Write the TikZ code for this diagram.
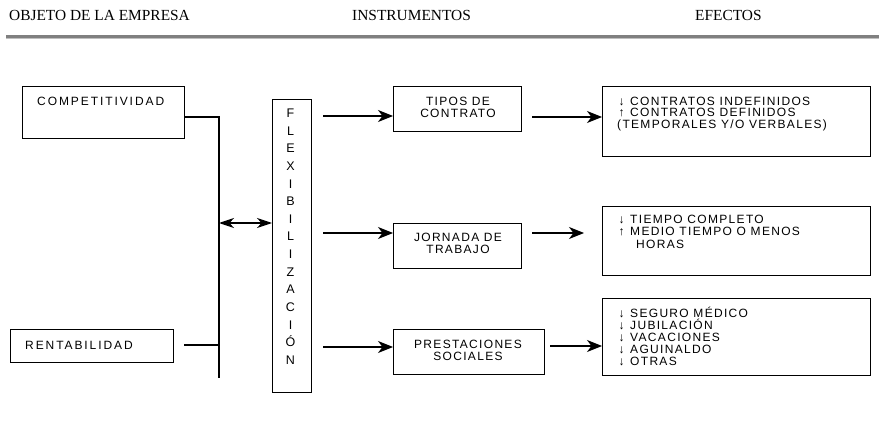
\documentclass[tikz,border=0pt]{standalone}
\usepackage{fontspec}
\setmainfont{Liberation Sans}
\newfontfamily\hdrfont{Liberation Serif}
\newfontfamily\midfont[LetterSpace=11]{Liberation Sans}
\newfontfamily\objfont[LetterSpace=16]{Liberation Sans}
\newfontfamily\efffont[LetterSpace=11]{Liberation Sans}
\usetikzlibrary{arrows.meta}
\newcommand{\dn}{\makebox[5pt]{\fontspec{Liberation Sans}↓}\hspace{6pt}}
\newcommand{\upa}{\makebox[5pt]{\fontspec{Liberation Sans}↑}\hspace{6pt}}
\begin{document}
\begin{tikzpicture}[x=1pt,y=-1pt,
  bx/.style={draw, line width=1.2pt, inner sep=0pt, anchor=north west},
  mid/.style={inner sep=0pt, align=center, font=\midfont\fontsize{12}{12.5}\selectfont},
  obj/.style={inner sep=0pt, anchor=base west, font=\objfont\fontsize{12}{12}\selectfont},
  eff/.style={inner sep=0pt, anchor=base west, font=\efffont\fontsize{12}{12}\selectfont},
  flx/.style={inner sep=0pt, anchor=base, font=\fontsize{12.5}{12.5}\selectfont},
  hdr/.style={inner sep=0pt, anchor=base west, font=\hdrfont\fontsize{15.4}{16}\selectfont},
  ln/.style={line width=1.2pt},
  arr/.style={line width=1.2pt, -{Stealth[length=15pt,width=12pt,inset=4.5pt]}},
  dbl/.style={line width=1.2pt, {Stealth[length=15pt,width=10pt,inset=4.5pt]}-{Stealth[length=15pt,width=10pt,inset=4.5pt]}}]
\useasboundingbox (0,0) rectangle (879,433);
% header
\node[hdr] (h1) at (9,20.5) {OBJETO DE LA EMPRESA};
\node[hdr] (h2) at (352,20.5) {INSTRUMENTOS};
\node[hdr] (h3) at (695,20.5) {EFECTOS};
\fill[black!50] (6,35) rectangle (879,38);
\fill[black!25] (6,38) rectangle (879,39.2);
% boxes
\node[bx, minimum width=162pt, minimum height=52pt] (comp) at (22,86) {};
\node[bx, minimum width=163pt, minimum height=33pt] (rent) at (10,329) {};
\node[bx, minimum width=39pt, minimum height=293pt] (flex) at (272,99) {};
\node[bx, minimum width=128pt, minimum height=45pt] (tipos) at (393,86) {};
\node[bx, minimum width=128pt, minimum height=45pt] (jorn) at (393,223) {};
\node[bx, minimum width=151pt, minimum height=45pt] (prest) at (393,329) {};
\node[bx, minimum width=268pt, minimum height=70pt] (ef1) at (602,86) {};
\node[bx, minimum width=268pt, minimum height=69pt] (ef2) at (602,206) {};
\node[bx, minimum width=268pt, minimum height=77pt] (ef3) at (602,298) {};
% texts
\node[obj] (tcomp) at (37,105.3) {COMPETITIVIDAD};
\node[obj] (trent) at (25,349.3) {RENTABILIDAD};
\foreach \l [count=\i] in {F,L,E,X,I,B,I,L,I,Z,A,C,I,Ó,N}
  \node[flx] (fl\i) at (290.5,{117.5+(\i-1)*17.64}) {\l};
\node[mid] (ttipos) at (458,107.5) {TIPOS DE\\CONTRATO};
\node[mid] (tjorn) at (458,243.5) {JORNADA DE\\TRABAJO};
\node[mid] (tprest) at (468,350.5) {PRESTACIONES\\SOCIALES};
\node[eff] (e1a) at (619,105.3) {\dn CONTRATOS INDEFINIDOS};
\node[eff] (e1b) at (619,116.8) {\upa CONTRATOS DEFINIDOS};
\node[eff] (e1c) at (617,128.3) {(TEMPORALES Y/O VERBALES)};
\node[eff] (e2a) at (619,223.3) {\dn TIEMPO COMPLETO};
\node[eff] (e2b) at (619,235.8) {\upa MEDIO TIEMPO O MENOS};
\node[eff] (e2c) at (636,248.3) {HORAS};
\node[eff] (e3a) at (619,317.3) {\dn SEGURO MÉDICO};
\node[eff] (e3b) at (619,329.3) {\dn JUBILACIÓN};
\node[eff] (e3c) at (619,341.3) {\dn VACACIONES};
\node[eff] (e3d) at (619,353.3) {\dn AGUINALDO};
\node[eff] (e3e) at (619,365.3) {\dn OTRAS};
% connectors
\coordinate (bustop) at (219,117);
\coordinate (busbot) at (219,378);
\coordinate (rentend) at (184,345);
\coordinate (dblL) at (219,223);
\draw[ln] (comp.east |- bustop) -- (bustop) -- (busbot);
\draw[ln] (rentend) -- (rentend -| bustop);
\draw[dbl] (dblL) -- (dblL -| flex.west);
\coordinate (f1) at (323,116);
\coordinate (f2) at (323,233);
\coordinate (f3) at (323,347);
\draw[arr] (f1) -- (f1 -| tipos.west);
\draw[arr] (f2) -- (f2 -| jorn.west);
\draw[arr] (f3) -- (f3 -| prest.west);
\coordinate (g1) at (532,117);
\coordinate (g2) at (532,233);
\coordinate (g2e) at (584,233);
\coordinate (g3) at (550,346);
\draw[arr] (g1) -- (g1 -| ef1.west);
\draw[arr] (g2) -- (g2e);
\draw[arr] (g3) -- (g3 -| ef3.west);
\end{tikzpicture}
\end{document}
